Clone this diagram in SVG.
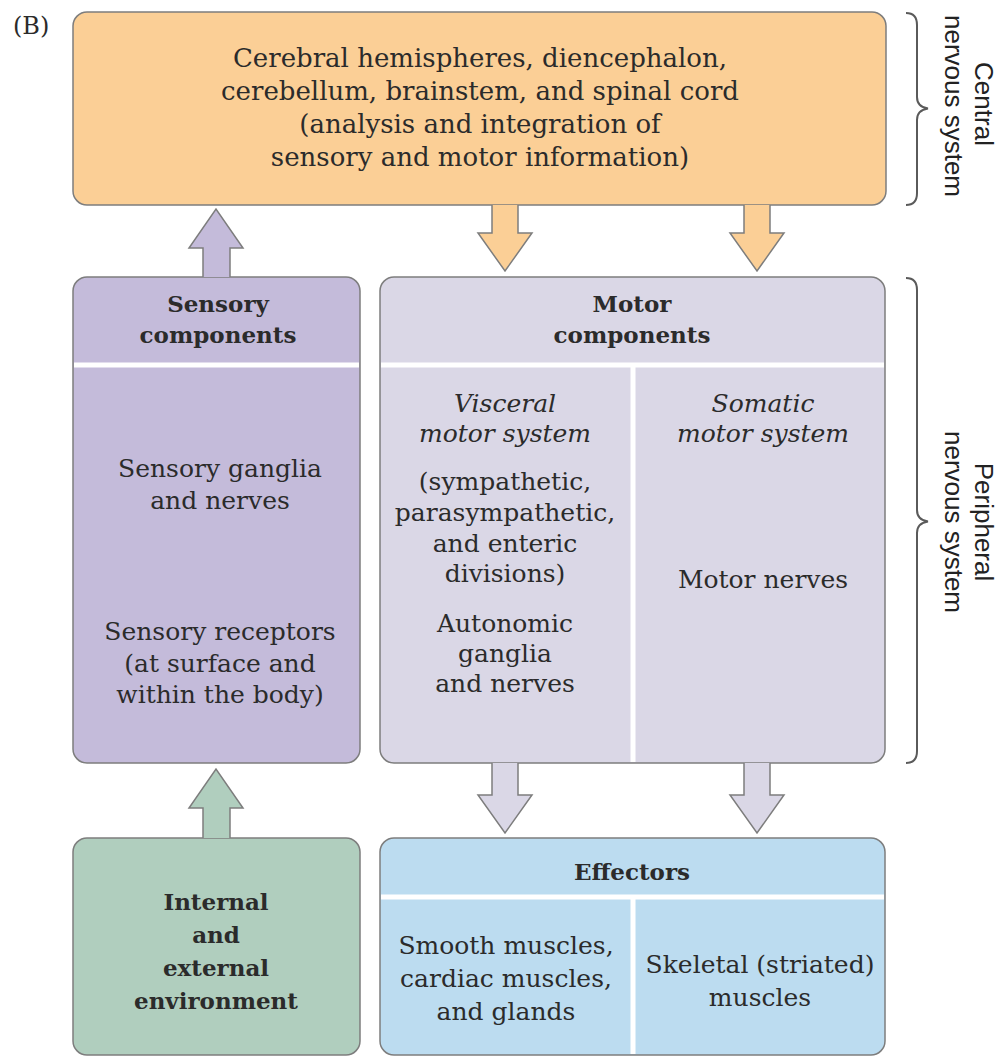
<svg xmlns="http://www.w3.org/2000/svg" width="1008" height="1060" viewBox="0 0 1008 1060">
<style>
.box{stroke:#7d7d7d;stroke-width:1.5}
.t{font-family:"DejaVu Serif","Liberation Serif",serif;font-size:25px;fill:#2b2b2b;text-anchor:middle}
.b{font-weight:bold}
.i{font-style:italic}
.dv{stroke:#ffffff;stroke-width:5}
.lab{font-family:"Liberation Sans","DejaVu Sans",sans-serif;font-size:26px;fill:#222222;text-anchor:middle}
.brace{fill:none;stroke:#5a5a5a;stroke-width:2}
.arrow{stroke:#7d7d7d;stroke-width:1.5;stroke-linejoin:miter}
.cns{fill:#FBCF96}
.sen{fill:#C4BBDA}
.mot{fill:#DAD7E6}
.env{fill:#B0CEBE}
.eff{fill:#BCDCF0}
</style>
<rect width="1008" height="1060" fill="#ffffff"/>
<text class="t" x="13" y="34" style="text-anchor:start;font-size:24px">(B)</text>

<g id="cns">
<rect class="box cns" x="73" y="12" width="813" height="193" rx="14"/>
<text class="t" x="480" y="67" style="font-size:26px">Cerebral hemispheres, diencephalon,</text>
<text class="t" x="480" y="100" style="font-size:26px">cerebellum, brainstem, and spinal cord</text>
<text class="t" x="480" y="133" style="font-size:26px">(analysis and integration of</text>
<text class="t" x="480" y="166" style="font-size:26px">sensory and motor information)</text>
</g>

<g id="sensory">
<rect class="box sen" x="73" y="277" width="287" height="486" rx="14"/>
<line class="dv" x1="74" y1="365" x2="359" y2="365"/>
<text class="t b" x="218" y="312" style="font-size:23px">Sensory</text>
<text class="t b" x="218" y="343" style="font-size:23px">components</text>
<text class="t" x="220" y="477">Sensory ganglia</text>
<text class="t" x="220" y="509">and nerves</text>
<text class="t" x="220" y="640">Sensory receptors</text>
<text class="t" x="220" y="672">(at surface and</text>
<text class="t" x="220" y="703">within the body)</text>
</g>

<g id="motor">
<rect class="box mot" x="380" y="277" width="505" height="486" rx="14"/>
<line class="dv" x1="381" y1="365" x2="884" y2="365"/>
<line class="dv" x1="633" y1="365" x2="633" y2="762"/>
<text class="t b" x="632" y="312" style="font-size:23px">Motor</text>
<text class="t b" x="632" y="343" style="font-size:23px">components</text>
<text class="t i" x="505" y="412">Visceral</text>
<text class="t i" x="505" y="442">motor system</text>
<text class="t" x="505" y="490">(sympathetic,</text>
<text class="t" x="505" y="521">parasympathetic,</text>
<text class="t" x="505" y="552">and enteric</text>
<text class="t" x="505" y="582">divisions)</text>
<text class="t" x="505" y="632">Autonomic</text>
<text class="t" x="505" y="662">ganglia</text>
<text class="t" x="505" y="692">and nerves</text>
<text class="t i" x="763" y="412">Somatic</text>
<text class="t i" x="763" y="442">motor system</text>
<text class="t" x="763" y="588">Motor nerves</text>
</g>

<g id="environment">
<rect class="box env" x="73" y="838" width="287" height="217" rx="14"/>
<text class="t b" x="216" y="910" style="font-size:23px">Internal</text>
<text class="t b" x="216" y="943" style="font-size:23px">and</text>
<text class="t b" x="216" y="976" style="font-size:23px">external</text>
<text class="t b" x="216" y="1009" style="font-size:23px">environment</text>
</g>

<g id="effectors">
<rect class="box eff" x="380" y="838" width="505" height="217" rx="14"/>
<line class="dv" x1="381" y1="897" x2="884" y2="897"/>
<line class="dv" x1="633" y1="897" x2="633" y2="1054"/>
<text class="t b" x="632" y="880" style="font-size:23px">Effectors</text>
<text class="t" x="506" y="954">Smooth muscles,</text>
<text class="t" x="506" y="987">cardiac muscles,</text>
<text class="t" x="506" y="1020">and glands</text>
<text class="t" x="760" y="973">Skeletal (striated)</text>
<text class="t" x="760" y="1006">muscles</text>
</g>

<g id="connectors">
<path class="arrow sen" d="M203,277 V248 H189 L216,209 L243,248 H230 V277"/>
<path class="arrow cns" d="M492,205 V233 H478 L505,271 L532,233 H518 V205"/>
<path class="arrow cns" d="M744,205 V233 H730 L757,271 L784,233 H770 V205"/>
<path class="arrow mot" d="M492,763 V795 H478 L505,833 L532,795 H518 V763"/>
<path class="arrow mot" d="M744,763 V795 H730 L757,833 L784,795 H770 V763"/>
<path class="arrow env" d="M203,838 V808 H189 L216,769 L243,808 H230 V838"/>
</g>

<g id="cns-label">
<path class="brace" d="M906,13 Q917,13 917,25 V97 Q917,107 928,108.5 Q917,110 917,120 V193 Q917,205 906,205"/>
<text class="lab" transform="translate(975,104) rotate(90)">Central</text>
<text class="lab" transform="translate(945,106) rotate(90)">nervous system</text>
</g>

<g id="pns-label">
<path class="brace" d="M906,278 Q917,278 917,290 V510 Q917,520 928,521.5 Q917,523 917,533 V751 Q917,763 906,763"/>
<text class="lab" transform="translate(975,522) rotate(90)">Peripheral</text>
<text class="lab" transform="translate(945,522) rotate(90)">nervous system</text>
</g>
</svg>
